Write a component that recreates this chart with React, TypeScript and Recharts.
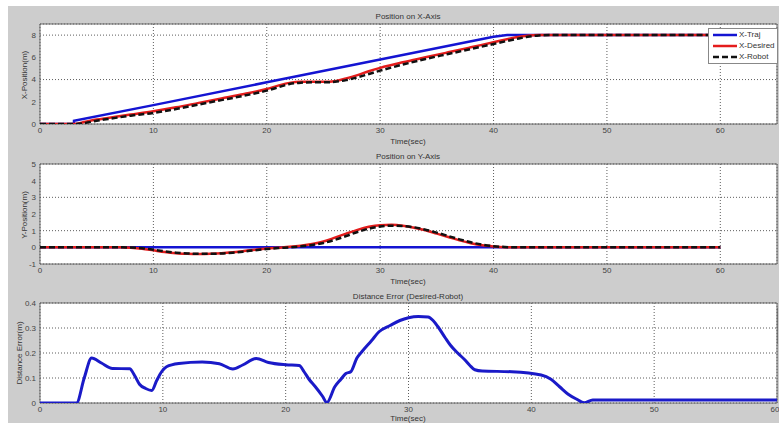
import React from 'react';
import { LineChart, Line, XAxis, YAxis, CartesianGrid, Legend, ReferenceArea } from 'recharts';

const timeTicks = [0, 10, 20, 30, 40, 50, 60];

// X position (m) vs time (sec)
const xTrajTime = [0, 3, 3, 10, 20, 30, 40, 41.2, 60];
const xTraj = [0, 0, 0.3, 1.7, 3.75, 5.8, 7.85, 8, 8];
const xTime = [0, 3, 4, 5, 6, 8, 10, 12, 14, 16, 18, 20, 21, 22, 23, 24, 25, 26, 27, 28, 29, 30, 32, 34, 36, 38, 40, 42, 43, 44, 45, 60];
const xDesired = [0, 0, 0.2, 0.4, 0.55, 0.85, 1.15, 1.5, 1.9, 2.3, 2.7, 3.15, 3.45, 3.7, 3.8, 3.8, 3.8, 3.85, 4.1, 4.4, 4.75, 5.05, 5.55, 6.0, 6.45, 6.9, 7.35, 7.8, 7.95, 8, 8, 8];
const xRobot = [0, 0, 0.1, 0.3, 0.45, 0.75, 1.0, 1.35, 1.75, 2.15, 2.55, 3.0, 3.3, 3.6, 3.72, 3.75, 3.75, 3.8, 3.95, 4.2, 4.5, 4.8, 5.35, 5.85, 6.3, 6.75, 7.2, 7.65, 7.85, 7.97, 8, 8];

// Y position (m) vs time (sec)
const yTrajTime = [0, 60];
const yTraj = [0, 0];
const yTime = [0, 7, 8, 9, 10, 11, 12, 13, 14, 15, 16, 17, 18, 19, 20, 21, 22, 23, 24, 25, 26, 27, 28, 29, 30, 31, 32, 33, 34, 35, 36, 37, 38, 39, 40, 41, 42, 60];
const yDesired = [0, 0, -0.02, -0.08, -0.18, -0.28, -0.35, -0.39, -0.4, -0.39, -0.36, -0.3, -0.22, -0.14, -0.07, -0.02, 0.03, 0.1, 0.2, 0.35, 0.58, 0.82, 1.05, 1.23, 1.33, 1.35, 1.3, 1.18, 1.02, 0.82, 0.62, 0.42, 0.25, 0.12, 0.05, 0.01, 0, 0];
const yRobot = [0, 0, -0.01, -0.05, -0.14, -0.24, -0.32, -0.37, -0.39, -0.39, -0.37, -0.32, -0.25, -0.17, -0.1, -0.04, 0.0, 0.06, 0.14, 0.26, 0.45, 0.68, 0.92, 1.12, 1.25, 1.3, 1.28, 1.2, 1.06, 0.88, 0.68, 0.48, 0.3, 0.16, 0.07, 0.02, 0, 0];

// distance error (m) vs time (sec)
const errTime = [0, 2.97, 3.6, 4.2, 5.0, 5.9, 7.3, 7.7, 8.1, 8.6, 9.1, 9.5, 9.9, 10.3, 11.3, 13.2, 14.6, 15.7, 16.5, 17.6, 18.6, 20.0, 21.1, 21.5, 21.9, 22.4, 23.0, 23.35, 24.0, 24.5, 24.9, 25.3, 25.8, 26.2, 27.0, 27.6, 28.5, 29.3, 30.0, 30.8, 31.6, 32.0, 32.4, 33.0, 33.4, 34.0, 34.6, 35.0, 35.4, 36.0, 38.4, 40.8, 41.6, 42.3, 43.0, 43.7, 44.3, 45.0, 60];
const distError = [0, 0, 0.1, 0.18, 0.16, 0.138, 0.137, 0.11, 0.075, 0.058, 0.05, 0.09, 0.125, 0.145, 0.158, 0.164, 0.157, 0.136, 0.152, 0.178, 0.162, 0.153, 0.15, 0.125, 0.095, 0.066, 0.027, 0.002, 0.065, 0.095, 0.118, 0.125, 0.18, 0.205, 0.25, 0.285, 0.31, 0.33, 0.341, 0.346, 0.344, 0.33, 0.305, 0.26, 0.232, 0.2, 0.172, 0.15, 0.133, 0.128, 0.125, 0.112, 0.095, 0.065, 0.035, 0.015, 0.001, 0.012, 0.012];

const zip = (t: number[], v: number[]) => t.map((time, i) => ({ t: time, v: v[i] }));

const FONT = '"Liberation Sans", Arial, sans-serif';
const BLUE = '#1414d2';
const RED = '#e41c1c';
const BLACK = '#111';

type Series = {
  name: string;
  data: { t: number; v: number }[];
  color: string;
  width: number;
  dash?: string;
  curve?: 'linear' | 'monotone';
};

type LegendBox = { left: number; top: number; width: number; sample: number };

function LegendContent({ items, sample }: { items: Series[]; sample: number }) {
  return (
    <div style={{ background: '#fff', border: '1px solid #888', padding: '0 2px 1px 4px', fontFamily: FONT, fontSize: 8, color: '#333' }}>
      {items.map((s) => (
        <div key={s.name} style={{ display: 'flex', alignItems: 'center', height: 11 }}>
          <svg width={sample} height={6} style={{ display: 'block' }}>
            <line x1={0} y1={3} x2={sample} y2={3} stroke={s.color} strokeWidth={s.width} strokeDasharray={s.dash} />
          </svg>
          <span style={{ marginLeft: 2, whiteSpace: 'nowrap' }}>{s.name}</span>
        </div>
      ))}
    </div>
  );
}

function SubPlot({
  top,
  xMax,
  yDomain,
  yTicks,
  series,
  legend,
}: {
  top: number;
  xMax: number;
  yDomain: [number, number];
  yTicks: number[];
  series: Series[];
  legend: LegendBox;
}) {
  const tick = { fontSize: 8, fill: '#444', fontFamily: FONT };
  return (
    <div style={{ position: 'absolute', left: 0, top }}>
      <LineChart width={779} height={140} margin={{ top: 24, right: 2, bottom: 0, left: 8 }}>
        <CartesianGrid stroke="#333" strokeDasharray="1 2" strokeWidth={0.8} fill="#fff" />
        <XAxis
          type="number"
          dataKey="t"
          domain={[0, xMax]}
          ticks={timeTicks}
          allowDataOverflow
          height={16}
          tickSize={0}
          tickMargin={3}
          tickLine={false}
          axisLine={false}
          tick={tick}
        />
        <YAxis
          type="number"
          domain={yDomain}
          ticks={yTicks}
          allowDataOverflow
          width={32}
          tickSize={0}
          tickMargin={4}
          tickLine={false}
          axisLine={false}
          tick={tick}
        />
        <ReferenceArea x1={0} x2={xMax} y1={yDomain[0]} y2={yDomain[1]} fill="none" stroke="#6a6a6a" strokeWidth={1} ifOverflow="visible" />
        {series.map((s) => (
          <Line
            key={s.name}
            data={s.data}
            dataKey="v"
            name={s.name}
            type={s.curve ?? 'monotone'}
            stroke={s.color}
            strokeWidth={s.width}
            strokeDasharray={s.dash}
            dot={false}
            activeDot={false}
            isAnimationActive={false}
          />
        ))}
        <Legend
          layout="vertical"
          align="center"
          verticalAlign="middle"
          wrapperStyle={{ left: legend.left, top: legend.top, width: legend.width }}
          content={() => <LegendContent items={series} sample={legend.sample} />}
        />
      </LineChart>
    </div>
  );
}

function Text({ x, y, children, rotate }: { x: number; y: number; children: React.ReactNode; rotate?: boolean }) {
  return (
    <div
      style={{
        position: 'absolute',
        left: x,
        top: y,
        transform: `translate(-50%, -50%)${rotate ? ' rotate(-90deg)' : ''}`,
        fontFamily: FONT,
        fontSize: 8,
        color: '#333',
        whiteSpace: 'nowrap',
      }}
    >
      {children}
    </div>
  );
}

export default function App() {
  const xSeries: Series[] = [
    { name: 'X-Traj', data: zip(xTrajTime, xTraj), color: BLUE, width: 2.5, curve: 'linear' },
    { name: 'X-Desired', data: zip(xTime, xDesired), color: RED, width: 2.5 },
    { name: 'X-Robot', data: zip(xTime, xRobot), color: BLACK, width: 2.5, dash: '6 3' },
  ];
  const ySeries: Series[] = [
    { name: 'Y-Traj', data: zip(yTrajTime, yTraj), color: BLUE, width: 2.5, curve: 'linear' },
    { name: 'Y-Desired', data: zip(yTime, yDesired), color: RED, width: 2.5 },
    { name: 'Y-Robot', data: zip(yTime, yRobot), color: BLACK, width: 2.5, dash: '6 3' },
  ];
  const errSeries: Series[] = [
    { name: 'Distance Error', data: zip(errTime, distError), color: '#1a1ac8', width: 3 },
  ];

  return (
    <div style={{ position: 'fixed', left: 0, top: 0, width: 779, height: 423, overflow: 'hidden', background: '#fff' }}>
      <div style={{ position: 'absolute', left: 8, top: 6, right: 0, bottom: 0, background: '#cdcdcd' }} />
      <SubPlot top={0} xMax={65} yDomain={[0, 9]} yTicks={[0, 2, 4, 6, 8]} series={xSeries} legend={{ left: 708, top: 28, width: 70, sample: 24 }} />
      <SubPlot top={140} xMax={65} yDomain={[-1, 5]} yTicks={[-1, 0, 1, 2, 3, 4, 5]} series={ySeries} legend={{ left: 708, top: 168, width: 70, sample: 24 }} />
      <SubPlot top={279} xMax={60} yDomain={[0, 0.4]} yTicks={[0, 0.1, 0.2, 0.3, 0.4]} series={errSeries} legend={{ left: 692, top: 307, width: 85, sample: 25 }} />
      <Text x={408} y={16}>Position on X-Axis</Text>
      <Text x={408} y={141}>Time(sec)</Text>
      <Text x={24} y={75} rotate>X-Position(m)</Text>
      <Text x={408} y={156}>Position on Y-Axis</Text>
      <Text x={408} y={281}>Time(sec)</Text>
      <Text x={24} y={215} rotate>Y-Position(m)</Text>
      <Text x={408} y={296}>Distance Error (Desired-Robot)</Text>
      <Text x={408} y={418}>Time(sec)</Text>
      <Text x={19} y={353} rotate>Distance Error(m)</Text>
    </div>
  );
}
